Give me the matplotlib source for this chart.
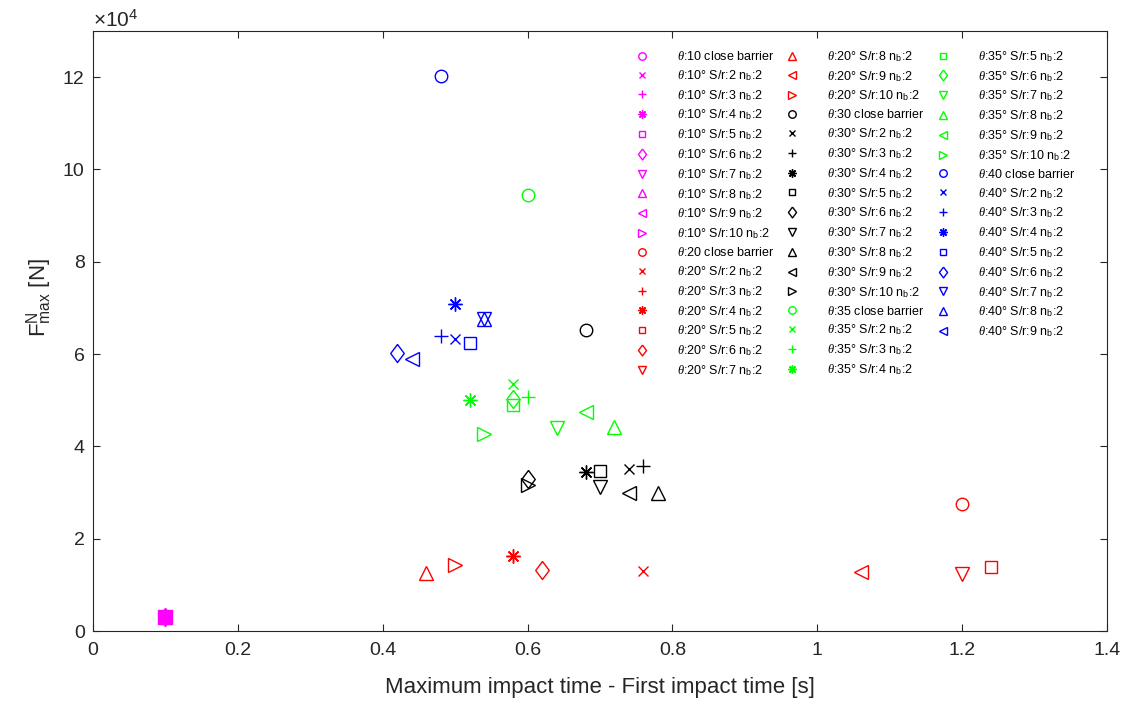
import matplotlib
matplotlib.use("Agg")
import matplotlib.pyplot as plt
from matplotlib.lines import Line2D

plt.rcParams['font.family'] = ['Liberation Sans', 'DejaVu Sans']
plt.rcParams['mathtext.fontset'] = 'custom'
plt.rcParams['mathtext.rm'] = 'Liberation Sans'
plt.rcParams['mathtext.it'] = 'Liberation Serif:italic'

# MATLAB-like marker shapes: asterisk with 8 arms, diamond a bit taller than wide
asterisk = (8, 2, 0)
diamond = [(0, 1), (0.75, 0), (0, -1), (-0.75, 0), (0, 1)]

# marker per S/r setting (close barrier, 2..10)
markers = ['o', 'x', '+', asterisk, 's', diamond, 'v', '^', '<', '>']
msizes = [9, 7, 10, 10, 8, 13, 10.5, 10.5, 10.5, 10.5]
sr_names = ['close', '2', '3', '4', '5', '6', '7', '8', '9', '10']

# theta = 10
t10_x = [0.10, 0.10, 0.10, 0.10, 0.10, 0.10, 0.10, 0.10, 0.10, 0.10]
t10_y = [3000, 3000, 3000, 3000, 3000, 3000, 3000, 3000, 3000, 3000]
# theta = 20
t20_x = [1.20, 0.76, 0.58, 0.58, 1.24, 0.62, 1.20, 0.46, 1.06, 0.50]
t20_y = [27600, 13000, 16200, 16200, 13900, 13300, 12300, 12500, 12700, 14300]
# theta = 30
t30_x = [0.68, 0.74, 0.76, 0.68, 0.70, 0.60, 0.70, 0.78, 0.74, 0.60]
t30_y = [65200, 35100, 35700, 34400, 34700, 33000, 31200, 29900, 29900, 31700]
# theta = 35
t35_x = [0.60, 0.58, 0.60, 0.52, 0.58, 0.58, 0.64, 0.72, 0.68, 0.54]
t35_y = [94400, 53500, 50700, 50000, 48900, 50200, 44000, 44200, 47500, 42700]
# theta = 40 (no S/r:10)
t40_x = [0.48, 0.50, 0.48, 0.50, 0.52, 0.42, 0.54, 0.54, 0.44]
t40_y = [120300, 63300, 64000, 70800, 62500, 60200, 67600, 67600, 59000]

groups = [
    ('10', '#ff00ff', t10_x, t10_y),
    ('20', '#ff0000', t20_x, t20_y),
    ('30', '#000000', t30_x, t30_y),
    ('35', '#00ff00', t35_x, t35_y),
    ('40', '#0000ff', t40_x, t40_y),
]

fig = plt.figure(figsize=(11.28, 7.02), dpi=100)
ax = fig.add_axes([93 / 1128, 1 - 631 / 702, (1107 - 93) / 1128, 600 / 702])

handles = []
labels = []
for theta, color, xs, ys in groups:
    for i in range(len(xs)):
        if sr_names[i] == 'close':
            lab = r'$\theta$:' + theta + ' close barrier'
        else:
            lab = r'$\theta$:' + theta + '° S/r:' + sr_names[i] + r' n$_{\rm b}$:2'
        h, = ax.plot(xs[i], ys[i], linestyle='none', marker=markers[i],
                     markersize=msizes[i], markerfacecolor='none',
                     markeredgecolor=color, markeredgewidth=1.0)
        handles.append(h)
        labels.append(lab)

# two blank slots so the legend splits 17/17/15 like the original
for k in range(2):
    handles.append(Line2D([], [], linestyle='none'))
    labels.append('')

ax.set_xlim(0, 1.4)
ax.set_ylim(0, 130000)
ax.set_xticks([0, 0.2, 0.4, 0.6, 0.8, 1.0, 1.2, 1.4])
ax.set_xticklabels(['0', '0.2', '0.4', '0.6', '0.8', '1', '1.2', '1.4'])
ax.set_yticks([0, 20000, 40000, 60000, 80000, 100000, 120000])
ax.set_yticklabels(['0', '2', '4', '6', '8', '10', '12'])

axcol = '#262626'
for s in ax.spines.values():
    s.set_color(axcol)
    s.set_linewidth(0.8)
ax.tick_params(direction='in', top=True, right=True, length=5, width=0.8,
               colors=axcol, labelsize=14, labelcolor=axcol)
ax.tick_params(axis='x', pad=8)
ax.tick_params(axis='y', pad=6)

ax.set_xlabel('Maximum impact time - First impact time [s]', fontsize=16,
              color=axcol, labelpad=13)
ax.set_ylabel(r'F$^{\rm N}_{\rm max}$ [N]', fontsize=16, color=axcol)
ax.yaxis.set_label_coords(-0.038, 0.555)
ax.text(0.0, 1.0, r'$\times10^4$', transform=ax.transAxes, fontsize=15,
        color=axcol, ha='left', va='bottom')

leg = ax.legend(handles, labels, ncol=3, frameon=False, fontsize=9,
                loc='upper left', bbox_to_anchor=(633 / 1128, 1 - 49 / 702),
                bbox_transform=fig.transFigure, borderpad=0, borderaxespad=0,
                handlelength=1.5, handletextpad=2.05, columnspacing=0.65,
                labelspacing=0.40, markerscale=0.6)

fig.savefig('out.png', dpi=100)
